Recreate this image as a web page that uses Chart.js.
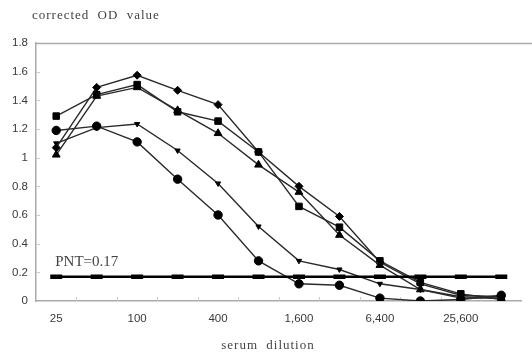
<!DOCTYPE html>
<html>
<head>
<meta charset="utf-8">
<script src="https://cdn.jsdelivr.net/npm/chart.js@4/dist/chart.umd.min.js"></script>
<style>
html,body{margin:0;padding:0;background:#fff;}
#c{display:block;}
</style>
</head>
<body>
<canvas id="c" width="532" height="354"></canvas>
<script>
// ---- data ----
const categories = ['25','50','100','200','400','800','1,600','3,200','6,400','12,800','25,600','51,200'];
const shownTickLabels = ['25','100','400','1,600','6,400','25,600'];
const yTickValues = [0, 0.2, 0.4, 0.6, 0.8, 1, 1.2, 1.4, 1.6, 1.8];
const seriesDiamond  = [1.07, 1.49, 1.575, 1.47, 1.37, 1.04, 0.80, 0.59, 0.27, 0.12, 0.04, 0.03];
const seriesSquare   = [1.29, 1.44, 1.51, 1.32, 1.255, 1.04, 0.66, 0.515, 0.28, 0.13, 0.05, 0.01];
const seriesTriangle = [1.02, 1.43, 1.49, 1.33, 1.17, 0.95, 0.76, 0.46, 0.25, 0.08, 0.03, 0.02];
const seriesCircle   = [1.19, 1.22, 1.11, 0.85, 0.60, 0.28, 0.12, 0.11, 0.02, 0.00, 0.01, 0.04];
const seriesDown     = [1.10, 1.21, 1.235, 1.05, 0.82, 0.52, 0.28, 0.22, 0.12, 0.08, 0.02, 0.02];
const seriesPNT      = [0.17, 0.17, 0.17, 0.17, 0.17, 0.17, 0.17, 0.17, 0.17, 0.17, 0.17, 0.17];
const pntLabel = 'PNT=0.17';
const yAxisTitle = 'corrected OD value';
const xAxisTitle = 'serum dilution';

const LINE = '#2a2a2a';
const MARK = '#000';

function ds(data, style, radius, rotation) {
  return {
    data: data,
    borderColor: LINE,
    borderWidth: 1.4,
    pointStyle: style,
    pointRadius: radius,
    pointRotation: rotation || 0,
    pointBackgroundColor: MARK,
    pointBorderColor: MARK,
    pointBorderWidth: 1,
    tension: 0,
    fill: false
  };
}

const decor = {
  id: 'decor',
  beforeDatasetsDraw(chart) {
    const ctx = chart.ctx, a = chart.chartArea;
    const xs = chart.scales.x, ys = chart.scales.y;
    ctx.save();
    ctx.strokeStyle = '#aaa';
    ctx.lineWidth = 1.5;
    ctx.beginPath();
    ctx.moveTo(a.left, a.top + 0.5);
    ctx.lineTo(chart.width, a.top + 0.5);
    ctx.stroke();
    ctx.strokeStyle = '#ccc';
    ctx.lineWidth = 1;
    ctx.beginPath();
    for (let i = 1; i < categories.length; i++) {
      const x = Math.round((xs.getPixelForValue(i - 1) + xs.getPixelForValue(i)) / 2) + 0.5;
      ctx.moveTo(x, a.bottom);
      ctx.lineTo(x, a.bottom - 4);
    }
    for (let j = 1; j < yTickValues.length - 1; j++) {
      const y = Math.round(ys.getPixelForValue(yTickValues[j])) + 0.5;
      ctx.moveTo(a.left, y);
      ctx.lineTo(a.left + 4, y);
    }
    ctx.stroke();
    ctx.restore();
  },
  afterDraw(chart) {
    const ctx = chart.ctx;
    const xs = chart.scales.x, ys = chart.scales.y;
    ctx.save();
    ctx.fillStyle = '#444';
    ctx.textBaseline = 'middle';
    ctx.font = '13px "Liberation Serif", serif';
    try { ctx.letterSpacing = '1px'; ctx.wordSpacing = '4px'; } catch (e) {}
    ctx.textAlign = 'left';
    ctx.fillText(yAxisTitle, 32, 16);
    ctx.textAlign = 'center';
    ctx.fillText(xAxisTitle, chart.width / 2 + 2, 346);
    try { ctx.letterSpacing = '0px'; ctx.wordSpacing = '0px'; } catch (e) {}
    ctx.font = '15px "Liberation Serif", serif';
    ctx.textAlign = 'left';
    ctx.fillText(pntLabel, xs.getPixelForValue(0) - 1, ys.getPixelForValue(0.275));
    ctx.restore();
  }
};

new Chart(document.getElementById('c'), {
  type: 'line',
  data: {
    labels: categories,
    datasets: [
      Object.assign(ds(seriesPNT, 'line', 6, 0), {borderColor: '#000', borderWidth: 2.5, pointBorderWidth: 4.5, pointBorderColor: '#000'}),
      ds(seriesCircle, 'circle', 4.2),
      ds(seriesDown, 'triangle', 3, 180),
      ds(seriesTriangle, 'triangle', 4.5),
      ds(seriesSquare, 'rect', 4.6),
      ds(seriesDiamond, 'rectRot', 4)
    ]
  },
  options: {
    responsive: false,
    animation: false,
    devicePixelRatio: 1,
    layout: { padding: { top: 43, right: 4, left: 0, bottom: 0 } },
    plugins: { legend: { display: false }, tooltip: { enabled: false } },
    scales: {
      x: {
        type: 'category',
        offset: true,
        afterFit(s) { s.height = 53; },
        grid: { display: true, drawOnChartArea: false, drawTicks: false, offset: true, color: 'rgba(0,0,0,0)' },
        border: { display: true, color: '#aaa', width: 1.5 },
        ticks: {
          autoSkip: false,
          maxRotation: 0,
          padding: 11,
          color: '#3a3a3a',
          font: { family: '"Liberation Sans", Arial, sans-serif', size: 11.5 },
          callback(v, i) { const l = categories[i]; return shownTickLabels.includes(l) ? l : ''; }
        }
      },
      y: {
        min: 0,
        max: 1.8,
        afterFit(s) { s.width = 36; },
        afterBuildTicks(s) { s.ticks = yTickValues.map(v => ({ value: v })); },
        grid: { drawOnChartArea: false, drawTicks: false },
        border: { display: true, color: '#aaa', width: 1.5 },
        ticks: {
          padding: 8,
          color: '#3a3a3a',
          font: { family: '"Liberation Sans", Arial, sans-serif', size: 11.5 },
          callback(v) { return String(Math.round(v * 10) / 10); }
        }
      }
    }
  },
  plugins: [decor]
});
</script>
</body>
</html>
